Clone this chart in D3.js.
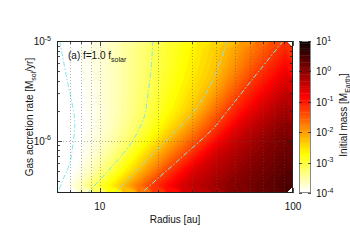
<!DOCTYPE html>
<html><head><meta charset="utf-8">
<script src="https://cdn.jsdelivr.net/npm/d3@7"></script>
<style>
html,body{margin:0;padding:0;background:#fff;}
svg{display:block;}
text{font-family:"Liberation Sans",Arial,Helvetica,sans-serif;fill:#111;}
</style></head><body>
<svg id="c" width="350" height="245"></svg>
<script>
// ---- data ----
const radii = [6.55, 7.81, 9.31, 11.10, 13.24, 15.79, 18.82, 22.44, 26.76, 31.90, 38.02, 45.34, 54.05, 64.45, 76.84, 91.6]; // au
const rates = [8.39e-6, 5.91e-6, 4.16e-6, 2.93e-6, 2.06e-6, 1.45e-6, 1.02e-6, 7.21e-7, 5.08e-7, 3.57e-7]; // Msol/yr
// log10 of initial mass [M_Earth]; one row per accretion rate (top to bottom), one column per radius
const massLog10 = [
  [-3.99,-3.93,-3.82,-3.68,-3.52,-3.34,-3.14,-2.96,-2.78,-2.59,-2.41,-2.21,-1.93,-1.65,-1.37,-1.11],
  [-4.00,-3.94,-3.83,-3.69,-3.52,-3.34,-3.13,-2.94,-2.74,-2.55,-2.35,-2.09,-1.77,-1.44,-1.14,-0.88],
  [-4.05,-3.95,-3.84,-3.70,-3.52,-3.32,-3.11,-2.90,-2.69,-2.48,-2.27,-1.91,-1.54,-1.19,-0.91,-0.62],
  [-4.08,-3.97,-3.86,-3.70,-3.52,-3.30,-3.07,-2.84,-2.60,-2.37,-2.05,-1.64,-1.24,-0.93,-0.63,-0.39],
  [-4.10,-3.98,-3.87,-3.71,-3.51,-3.28,-3.02,-2.75,-2.48,-2.19,-1.75,-1.32,-0.97,-0.63,-0.38,-0.18],
  [-4.12,-3.99,-3.87,-3.69,-3.46,-3.20,-2.88,-2.56,-2.23,-1.82,-1.40,-1.01,-0.62,-0.36,-0.16, 0.02],
  [-4.12,-3.97,-3.83,-3.61,-3.35,-3.01,-2.62,-2.23,-1.83,-1.43,-1.03,-0.62,-0.36,-0.16, 0.03, 0.17],
  [-4.12,-3.95,-3.74,-3.45,-3.09,-2.65,-2.22,-1.80,-1.38,-0.98,-0.58,-0.35,-0.17, 0.01, 0.14, 0.28],
  [-4.08,-3.87,-3.57,-3.17,-2.72,-2.27,-1.80,-1.32,-0.93,-0.55,-0.35,-0.17, 0.00, 0.13, 0.25, 0.38],
  [-3.97,-3.66,-3.18,-2.70,-2.23,-1.73,-1.24,-0.89,-0.54,-0.35,-0.18, 0.00, 0.11, 0.23, 0.35, 0.46]
];
// dash-dot contour curves
const contourA_r    = [6.20, 6.75, 7.33, 7.42, 7.25, 6.99, 6.51, 6.06];
const contourA_rate = [1e-5, 4.17e-6, 1.91e-6, 1.45e-6, 9.1e-7, 6.0e-7, 4.27e-7, 3.02e-7];
const contourB_r    = [18.8, 18.4, 17.7, 17.1, 15.7, 14.3, 12.0, 10.0, 8.67];
const contourB_rate = [1e-5, 5.13e-6, 2.88e-6, 1.82e-6, 1.23e-6, 9.1e-7, 6.0e-7, 4.07e-7, 3.02e-7];
const contourC_r    = [45.5, 42.4, 39.0, 35.0, 30.0, 23.1, 18.2, 14.3, 12.1];
const contourC_rate = [1e-5, 6.46e-6, 4.27e-6, 2.88e-6, 1.86e-6, 1.10e-6, 6.92e-7, 4.27e-7, 3.02e-7];
const contourD_r    = [88.8, 61.3, 42.9, 39.4, 26.0, 16.5];
const contourD_rate = [1e-5, 4.07e-6, 1.70e-6, 1.38e-6, 6.61e-7, 3.02e-7];

const xMajor = [10, 100];
const xMinor = [6, 7, 8, 9, 20, 30, 40, 50, 60, 70, 80, 90];
const yMajor = [1e-5, 1e-6];
const yMinor = [4e-7, 5e-7, 6e-7, 7e-7, 8e-7, 9e-7, 2e-6, 3e-6, 4e-6, 5e-6, 6e-6, 7e-6, 8e-6, 9e-6];
const yTickExp = ["-5", "-6"];
const cbTicks = [1e1, 1e0, 1e-1, 1e-2, 1e-3, 1e-4];
const cbTickExp = ["1", "0", "-1", "-2", "-3", "-4"];
const annotation = ["(a) f=1.0 f", "solar"];

// ---- layout ----
const L = 57, R = 293, T = 41, B = 193;
const svg = d3.select("#c");
const x = d3.scaleLog().domain([6, 100]).range([L, R]);
const y = d3.scaleLog().domain([3e-7, 1e-5]).range([B, T]);

// reversed MATLAB "hot", 64 levels over log10 M in [-4, 1]
const NL = 64, vmin = -4, vmax = 1;
function levelColor(k) {
  const h = NL - 1 - k;
  const r = h < 24 ? (h + 1) / 24 : 1;
  const g = h < 24 ? 0 : (h < 48 ? (h - 23) / 24 : 1);
  const b = h < 48 ? 0 : (h - 47) / 16;
  return d3.rgb(r * 255, g * 255, b * 255).formatHex();
}
const thr = d3.range(1, NL).map(k => vmin + k * (vmax - vmin) / NL);

const defs = svg.append("defs");
defs.append("clipPath").attr("id", "clip").append("rect")
  .attr("x", L).attr("y", T).attr("width", R - L).attr("height", B - T);

const plot = svg.append("g").attr("clip-path", "url(#clip)");
plot.append("rect").attr("x", L).attr("y", T).attr("width", R - L).attr("height", B - T)
  .attr("fill", levelColor(0));

// heat map through d3.contours
const nx = radii.length, ny = rates.length;
const lr0 = Math.log10(radii[0]), dlr = (Math.log10(radii[nx - 1]) - lr0) / (nx - 1);
const lm0 = Math.log10(rates[0]), dlm = (Math.log10(rates[ny - 1]) - lm0) / (ny - 1);
const gx = c => x(Math.pow(10, lr0 + (c - 0.5) * dlr));
const gy = c => y(Math.pow(10, lm0 + (c - 0.5) * dlm));
const proj = d3.geoTransform({ point(px, py) { this.stream.point(gx(px), gy(py)); } });
const path = d3.geoPath(proj);
const flat = massLog10.flat();
const bands = d3.contours().size([nx, ny]).thresholds(thr)(flat);
plot.selectAll("path.band").data(bands).join("path")
  .attr("class", "band")
  .attr("d", path)
  .attr("fill", (d, i) => levelColor(i + 1))
  .attr("stroke", (d, i) => levelColor(i + 1))
  .attr("stroke-width", 0.3);

// grid
const grid = svg.append("g").attr("stroke", "#555").attr("stroke-opacity", 0.55)
  .attr("stroke-width", 0.8).attr("stroke-dasharray", "1,2").attr("fill", "none");
grid.selectAll("line.gx").data(xMajor.concat(xMinor).filter(v => v > 6 && v < 100)).join("line")
  .attr("x1", d => Math.round(x(d)) + 0.5).attr("x2", d => Math.round(x(d)) + 0.5)
  .attr("y1", T).attr("y2", B);
grid.selectAll("line.gy").data([1e-6]).join("line")
  .attr("y1", d => Math.round(y(d)) + 0.5).attr("y2", d => Math.round(y(d)) + 0.5)
  .attr("x1", L).attr("x2", R);

// contour curves
const curves = [[contourA_r, contourA_rate], [contourB_r, contourB_rate],
                [contourC_r, contourC_rate], [contourD_r, contourD_rate]];
const line = d3.line().x(d => x(d[0])).y(d => y(d[1])).curve(d3.curveCatmullRom);
plot.selectAll("path.cl").data(curves).join("path")
  .attr("d", c => line(c[0].map((r, i) => [r, c[1][i]])))
  .attr("fill", "none").attr("stroke", "#7fe6f2").attr("stroke-width", 1)
  .attr("stroke-dasharray", "5,2,1.5,2");

// ticks (inward, all four sides)
const tk = svg.append("g").attr("stroke", "#222").attr("stroke-width", 0.8);
function xt(vals, len) {
  vals.forEach(v => {
    const px = Math.round(x(v)) + 0.5;
    tk.append("line").attr("x1", px).attr("x2", px).attr("y1", B).attr("y2", B - len);
    tk.append("line").attr("x1", px).attr("x2", px).attr("y1", T).attr("y2", T + len);
  });
}
function yt(vals, len) {
  vals.forEach(v => {
    const py = Math.round(y(v)) + 0.5;
    tk.append("line").attr("y1", py).attr("y2", py).attr("x1", L).attr("x2", L + len);
    tk.append("line").attr("y1", py).attr("y2", py).attr("x1", R).attr("x2", R - len);
  });
}
xt(xMajor, 5); xt(xMinor, 3); yt(yMajor, 5); yt(yMinor, 3);

// frame
svg.append("rect").attr("x", L + 0.5).attr("y", T + 0.5).attr("width", R - L - 1).attr("height", B - T - 1)
  .attr("fill", "none").attr("stroke", "#222").attr("stroke-width", 1);

// tick labels
svg.selectAll("text.xl").data(xMajor).join("text")
  .attr("x", d => x(d)).attr("y", 210).attr("text-anchor", "middle")
  .attr("font-size", 10).text(d => d);
yMajor.forEach((v, i) => {
  const t = svg.append("text").attr("x", 51).attr("y", y(v) + 4).attr("text-anchor", "end").attr("font-size", 10);
  t.append("tspan").text("10");
  t.append("tspan").attr("font-size", 7).attr("dy", -4.5).text(yTickExp[i]);
});

// axis labels
svg.append("text").attr("x", 175).attr("y", 223).attr("text-anchor", "middle").attr("font-size", 10)
  .text("Radius [au]");
const yl = svg.append("text").attr("transform", "translate(33,117) rotate(-90)")
  .attr("text-anchor", "middle").attr("font-size", 10);
yl.append("tspan").text("Gas accretion rate [M");
yl.append("tspan").attr("font-size", 7).attr("dy", 2.5).text("sol");
yl.append("tspan").attr("dy", -2.5).text("/yr]");

// annotation
const an = svg.append("text").attr("x", 68).attr("y", 59).attr("font-size", 10);
an.append("tspan").text(annotation[0]);
an.append("tspan").attr("font-size", 7).attr("dy", 3).text(annotation[1]);

// colorbar
const CX = 299, CW = 12;
const cb = d3.scaleLog().domain([1e-4, 1e1]).range([B, T]);
svg.selectAll("rect.cb").data(d3.range(NL)).join("rect")
  .attr("x", CX).attr("width", CW)
  .attr("y", k => cb(Math.pow(10, vmin + (k + 1) * (vmax - vmin) / NL)))
  .attr("height", k => cb(Math.pow(10, vmin + k * (vmax - vmin) / NL)) - cb(Math.pow(10, vmin + (k + 1) * (vmax - vmin) / NL)) + 0.4)
  .attr("fill", k => levelColor(k));
svg.append("rect").attr("x", CX + 0.5).attr("y", T + 0.5).attr("width", CW - 1).attr("height", B - T - 1)
  .attr("fill", "none").attr("stroke", "#888").attr("stroke-width", 1);
const cbt = svg.append("g").attr("stroke", "#222").attr("stroke-width", 0.8);
cbTicks.forEach(v => {
  const py = Math.round(cb(v)) + 0.5;
  cbt.append("line").attr("x1", CX).attr("x2", CX + 3).attr("y1", py).attr("y2", py);
  cbt.append("line").attr("x1", CX + CW).attr("x2", CX + CW - 3).attr("y1", py).attr("y2", py);
});
cbTicks.forEach((v, i) => {
  const t = svg.append("text").attr("x", 316).attr("y", cb(v) + 4).attr("font-size", 10);
  t.append("tspan").text("10");
  t.append("tspan").attr("font-size", 7).attr("dy", -4.5).text(cbTickExp[i]);
});
const cl = svg.append("text").attr("transform", "translate(347,115) rotate(-90)")
  .attr("text-anchor", "middle").attr("font-size", 10);
cl.append("tspan").text("Initial mass [M");
cl.append("tspan").attr("font-size", 7).attr("dy", 2.5).text("Earth");
cl.append("tspan").attr("dy", -2.5).text("]");
</script>
</body></html>
